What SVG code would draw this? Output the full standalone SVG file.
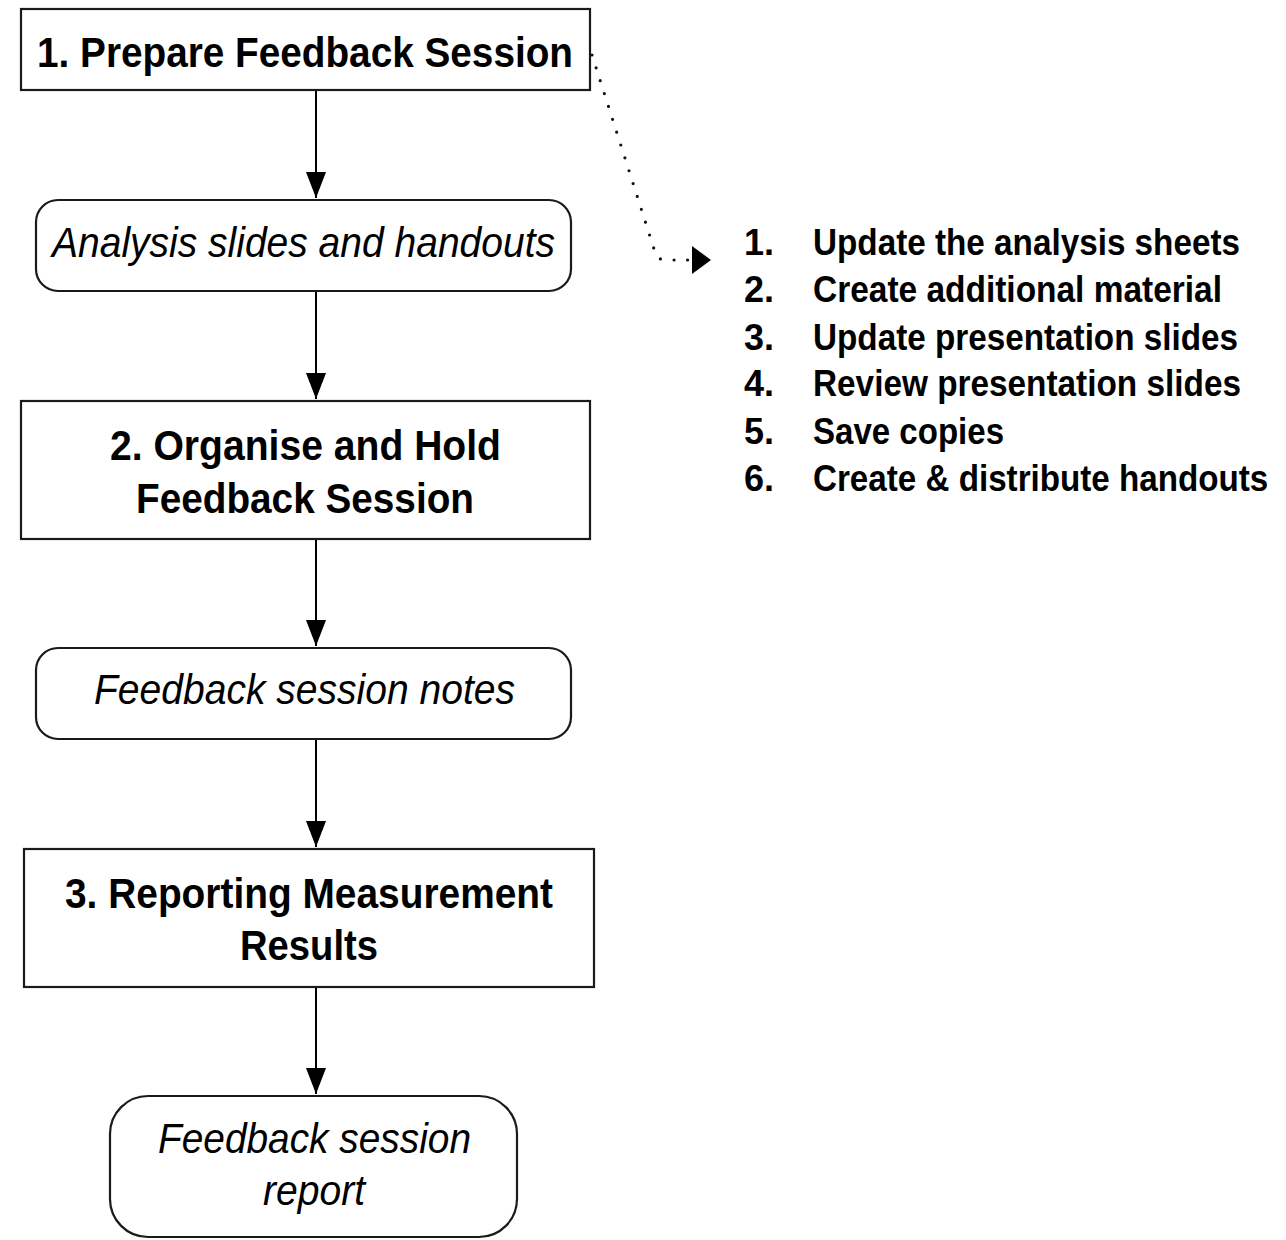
<svg xmlns="http://www.w3.org/2000/svg" width="1286" height="1240" viewBox="0 0 1286 1240">
<style>
.box{fill:#fff;stroke:#1a1a1a;stroke-width:2.2}
.b{font-family:"Liberation Sans",Arial,sans-serif;font-weight:bold;font-size:42px;fill:#000}
.i{font-family:"Liberation Sans",Arial,sans-serif;font-style:italic;font-size:42px;fill:#000}
.l{font-family:"Liberation Sans",Arial,sans-serif;font-weight:bold;font-size:36px;fill:#000}
.c{stroke:#000;stroke-width:2;fill:none;marker-end:url(#ah)}
.d{stroke:#111;stroke-width:3.2;fill:none;stroke-dasharray:0 13.5;stroke-linecap:round}
</style>
<defs>
<marker id="ah" viewBox="0 0 26 20" refX="26" refY="10" markerWidth="26" markerHeight="20" markerUnits="userSpaceOnUse" orient="auto">
<path d="M0,0 L26,10 L0,20 Z" fill="#000"/>
</marker>
</defs>
<rect width="1286" height="1240" fill="#fff"/>
<g id="connectors">
<line class="c" x1="316" y1="91" x2="316" y2="198"/>
<line class="c" x1="316" y1="291" x2="316" y2="399"/>
<line class="c" x1="316" y1="539" x2="316" y2="646"/>
<line class="c" x1="316" y1="739" x2="316" y2="847"/>
<line class="c" x1="316" y1="987" x2="316" y2="1094"/>
<path class="d" d="M592,55 L655,252 Q657,260 666,260 L690,260"/>
<path d="M692,246 L711,260 L692,274 Z" fill="#000"/>
</g>
<g id="n1">
<rect class="box" x="21" y="9" width="569" height="81"/>
<text class="b" x="37" y="67" textLength="536" lengthAdjust="spacingAndGlyphs">1. Prepare Feedback Session</text>
</g>
<g id="n2">
<rect class="box" x="36" y="200" width="535" height="91" rx="22"/>
<text class="i" x="52" y="257" textLength="503" lengthAdjust="spacingAndGlyphs">Analysis slides and handouts</text>
</g>
<g id="n3">
<rect class="box" x="21" y="401" width="569" height="138"/>
<text class="b" x="110" y="460" textLength="391" lengthAdjust="spacingAndGlyphs">2. Organise and Hold</text>
<text class="b" x="136" y="513" textLength="338" lengthAdjust="spacingAndGlyphs">Feedback Session</text>
</g>
<g id="n4">
<rect class="box" x="36" y="648" width="535" height="91" rx="22"/>
<text class="i" x="94" y="704" textLength="421" lengthAdjust="spacingAndGlyphs">Feedback session notes</text>
</g>
<g id="n5">
<rect class="box" x="24" y="849" width="570" height="138"/>
<text class="b" x="65" y="908" textLength="488" lengthAdjust="spacingAndGlyphs">3. Reporting Measurement</text>
<text class="b" x="240" y="960" textLength="138" lengthAdjust="spacingAndGlyphs">Results</text>
</g>
<g id="n6">
<rect class="box" x="110" y="1096" width="407" height="141" rx="38"/>
<text class="i" x="158" y="1153" textLength="313" lengthAdjust="spacingAndGlyphs">Feedback session</text>
<text class="i" x="263" y="1205" textLength="102" lengthAdjust="spacingAndGlyphs">report</text>
</g>
<g id="list">
<text class="l" x="744" y="255">1.</text>
<text class="l" x="813" y="255" textLength="427" lengthAdjust="spacingAndGlyphs">Update the analysis sheets</text>
<text class="l" x="744" y="302">2.</text>
<text class="l" x="813" y="302" textLength="409" lengthAdjust="spacingAndGlyphs">Create additional material</text>
<text class="l" x="744" y="350">3.</text>
<text class="l" x="813" y="350" textLength="425" lengthAdjust="spacingAndGlyphs">Update presentation slides</text>
<text class="l" x="744" y="396">4.</text>
<text class="l" x="813" y="396" textLength="428" lengthAdjust="spacingAndGlyphs">Review presentation slides</text>
<text class="l" x="744" y="444">5.</text>
<text class="l" x="813" y="444" textLength="191" lengthAdjust="spacingAndGlyphs">Save copies</text>
<text class="l" x="744" y="491">6.</text>
<text class="l" transform="translate(813,491) scale(0.922,1)" x="0" y="0">Create &amp; distribute handouts</text>
</g>
</svg>
